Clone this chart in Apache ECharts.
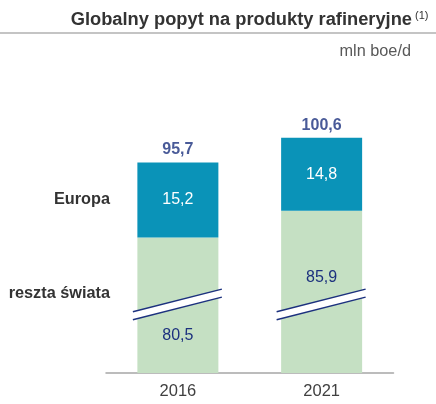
<!DOCTYPE html>
<html>
<head>
<meta charset="utf-8">
<script src="https://cdn.jsdelivr.net/npm/echarts@6/dist/echarts.min.js"></script>
<style>
html,body{margin:0;padding:0;background:#fff;}
#c{width:436px;height:404px;}
</style>
</head>
<body>
<div id="c"></div>
<script>
// ---- data ----
const categories = ['2016', '2021'];
const restOfWorld = [80.5, 85.9];   // reszta świata
const europe = [15.2, 14.8];        // Europa
const totals = [95.7, 100.6];
const seriesNames = ['reszta świata', 'Europa'];
const titleText = 'Globalny popyt na produkty rafineryjne';
const unitText = 'mln boe/d';
// axis break marker (value axis positions, left / right end)
const breakLow = [64.6, 64.6];
const breakHigh = [69.2, 69.2];

const fmt = v => v.toFixed(1).replace('.', ',');
const FONT = 'Liberation Sans, Arial, sans-serif';
const NAVY = '#1c317e';

const chart = echarts.init(document.getElementById('c'), null, {renderer: 'canvas'});

const option = {
  animation: false,
  textStyle: {fontFamily: FONT},
  grid: {left: 106, right: 42.5, top: 92, bottom: 31, containLabel: false},
  xAxis: {
    type: 'category',
    data: categories,
    axisLine: {show: true, lineStyle: {color: '#a6a6a6', width: 1.5}},
    axisTick: {show: false},
    axisLabel: {fontSize: 16.5, color: '#404040', margin: 10, fontFamily: FONT}
  },
  yAxis: {
    type: 'value',
    min: 53,
    max: 110,
    startValue: 53,
    show: false,
    splitLine: {show: false}
  },
  graphic: [
    {type: 'text', right: 24, top: 11,
     style: {text: titleText, font: 'bold 18.3px ' + FONT, fill: '#333333'}},
    {type: 'text', left: 415, top: 10,
     style: {text: '(1)', font: '11px ' + FONT, fill: '#333333'}},
    {type: 'rect', shape: {x: 0, y: 32, width: 436, height: 2},
     style: {fill: '#c4c4c4'}},
    {type: 'text', right: 25, top: 44,
     style: {text: unitText, font: '16.3px ' + FONT, fill: '#595959'}},
    {type: 'text', right: 326, top: 192,
     style: {text: seriesNames[1], font: 'bold 16.3px ' + FONT, fill: '#333333'}},
    {type: 'text', right: 326, top: 286,
     style: {text: seriesNames[0], font: 'bold 16.3px ' + FONT, fill: '#333333'}}
  ],
  series: [
    {
      name: seriesNames[0],
      type: 'bar',
      stack: 'total',
      barWidth: 81,
      data: restOfWorld.map((v, i) => ({
        value: v,
        label: {offset: i === 0 ? [0, 30] : [0, -14]}
      })),
      itemStyle: {color: '#c5e0c3'},
      label: {show: true, position: 'inside', fontSize: 16, color: NAVY,
              fontFamily: FONT, formatter: p => fmt(p.value)}
    },
    {
      name: seriesNames[1],
      type: 'bar',
      stack: 'total',
      barWidth: 81,
      data: europe,
      itemStyle: {color: '#0a93b8'},
      label: {show: true, position: 'inside', fontSize: 16, color: '#ffffff',
              fontFamily: FONT, formatter: p => fmt(p.value)}
    },
    {
      name: 'total',
      type: 'scatter',
      symbolSize: 0,
      data: totals,
      silent: true,
      label: {show: true, position: 'top', distance: 5, fontSize: 16,
              fontWeight: 'bold', color: NAVY, fontFamily: FONT,
              formatter: p => fmt(p.value)}
    },
    {
      name: 'break',
      type: 'custom',
      silent: true,
      z: 10,
      data: categories.map((c, i) => [i, breakLow[i], breakHigh[i]]),
      renderItem: function (params, api) {
        const i = api.value(0);
        const pl = api.coord([i, api.value(1)]);
        const pr = api.coord([i, api.value(2)]);
        const xl = pl[0] - 45, xr = pr[0] + 44;
        const yl = pl[1], yr = pr[1];
        const g = 4;
        return {
          type: 'group',
          children: [
            {type: 'polygon', shape: {points: [[xl, yl - g], [xr, yr - g], [xr, yr + g], [xl, yl + g]]},
             style: {fill: '#ffffff'}},
            {type: 'line', shape: {x1: xl, y1: yl - g, x2: xr, y2: yr - g},
             style: {stroke: NAVY, lineWidth: 1.5}},
            {type: 'line', shape: {x1: xl, y1: yl + g, x2: xr, y2: yr + g},
             style: {stroke: NAVY, lineWidth: 1.5}}
          ]
        };
      }
    }
  ]
};
chart.setOption(option);
</script>
</body>
</html>
